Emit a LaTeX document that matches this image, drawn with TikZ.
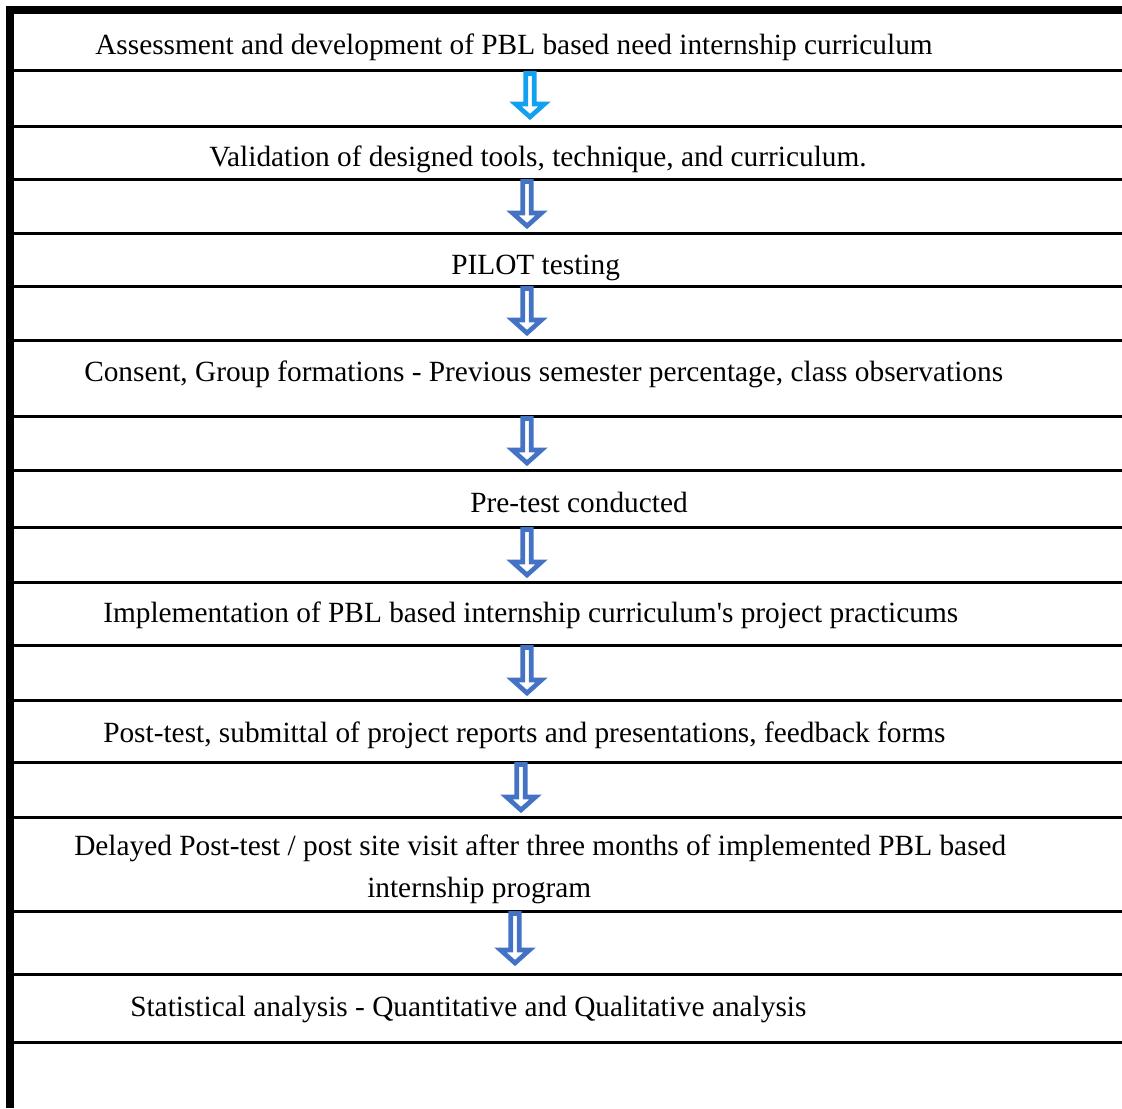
\documentclass[tikz,border=0pt]{standalone}
\usepackage{fontspec}
\setmainfont{Liberation Serif}[Ligatures=TeXOff]
\definecolor{arrA}{RGB}{20,160,240}
\definecolor{arrB}{RGB}{68,114,196}
\tikzset{
  lbl/.style={anchor=base west, inner sep=0pt, font=\fontsize{22}{26}\selectfont},
  rule/.style={line width=2.25pt},
  blk/.style={line width=3.5pt, fill=white, line join=miter, miter limit=10}
}
\newcommand\blkarrow[4]{%
  \draw[blk,draw=#1] (#2-4.2,#3+1.5) -- (#2-4.2,#4-18) -- (#2-14.5,#4-18) -- (#2,#4-5)
    -- (#2+14.5,#4-18) -- (#2+4.2,#4-18) -- (#2+4.2,#3+1.5) -- cycle;}
\begin{document}
\begin{tikzpicture}[x=0.75pt,y=-0.75pt]
\useasboundingbox (0,0) rectangle (1122,1108);
\fill (6,6) rectangle (1122,14);
\fill (6,6) rectangle (14,1108);
\foreach \y in {70.5,126,179,233,286,340,416,470,527,582,645,700,762,817,911,974,1042}
  \draw[rule] (14,\y) -- (1122,\y);
\node[lbl] (t1) at (95,54) {Assessment and development of PBL based need internship curriculum};
\node[lbl] (t2) at (209,166) {Validation of designed tools, technique, and curriculum.};
\node[lbl] (t3) at (451,274) {PILOT testing};
\node[lbl] (t4) at (84,381) {Consent, Group formations - Previous semester percentage, class observations};
\node[lbl] (t5) at (470,512) {Pre-test conducted};
\node[lbl] (t6) at (103,622) {Implementation of PBL based internship curriculum's project practicums};
\node[lbl] (t7) at (103,742) {Post-test, submittal of project reports and presentations, feedback forms};
\node[lbl] (t8a) at (74,855) {Delayed Post-test / post site visit after three months of implemented PBL based};
\node[lbl] (t8b) at (367,897) {internship program};
\node[lbl] (t9) at (130,1016) {Statistical analysis - Quantitative and Qualitative analysis};
\blkarrow{arrA}{530}{72}{122}
\blkarrow{arrB}{527}{180}{231}
\blkarrow{arrB}{527}{287}{338}
\blkarrow{arrB}{527}{417}{468}
\blkarrow{arrB}{527}{528}{580}
\blkarrow{arrB}{527}{646}{698}
\blkarrow{arrB}{521}{763}{815}
\blkarrow{arrB}{515}{912}{968}
\end{tikzpicture}
\end{document}
